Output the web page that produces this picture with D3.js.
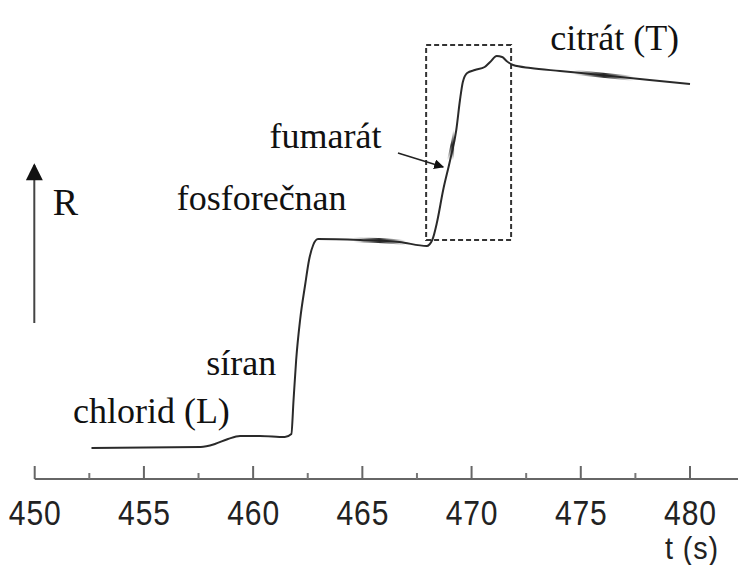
<!DOCTYPE html>
<html>
<head>
<meta charset="utf-8">
<script src="https://cdn.jsdelivr.net/npm/d3@7"></script>
<style>
  html, body { margin: 0; padding: 0; background: #fff; }
  svg { display: block; }
</style>
</head>
<body>
<svg id="chart" width="738" height="565"></svg>
<script>
// Detector response R over time t (s): one step per eluted anion
const times = [452.6, 457.6, 458.25, 458.85, 459.4, 460.3, 461.45, 461.75, 461.85, 461.97,
  462.15, 462.38, 462.56, 462.75, 462.97, 464.9, 466.7, 467.95, 468.2, 468.42,
  468.7, 469.02, 469.3, 469.47, 469.6, 469.8, 470.15, 470.6, 470.85, 471.15,
  471.4, 471.6, 471.9, 472.7, 474.05, 475.9, 478.15, 480.0];
const response = [0, 0.25, 1, 2.25, 3, 3, 2.75, 3.5, 12, 22,
  32, 40.75, 47, 50.75, 52.25, 52, 51.5, 50.5, 52, 56.5,
  64.5, 72, 79.5, 87, 91.5, 93.75, 94.5, 95.25, 96.5, 98,
  97.75, 96.75, 95.75, 95, 94.25, 93.25, 92, 91];

// Axis ticks
const majorTicks = [450, 455, 460, 465, 470, 475, 480];
const minorTicks = [452.5, 457.5, 462.5, 467.5, 472.5, 477.5];

// Zone labels: text, anchor time, anchor response
const labelText = ["chlorid (L)", "síran", "fosforečnan", "fumarát", "citrát (T)"];
const labelT = [451.75, 457.85, 456.5, 460.75, 473.6];
const labelR = [6.25, 18.25, 59.5, 75, 99.5];

// Dashed highlight around the fumarate/citrate transition
const boxT = [467.92, 471.81];
const boxR = [52, 100.75];

// Pointer to the fumarate step
const pointerT = [466.63, 468.7];
const pointerR = [73.75, 70.25];

// Response axis arrow
const rArrowR = [31.25, 70.75];

// Darker, heavier stretches of the trace (time ranges, direction of the fade)
const heavyT0 = [464.6, 474.7, 468.85];
const heavyT1 = [467.0, 477.4, 469.2];
const heavyDir = ["x", "x", "y"];

const svg = d3.select("#chart");
const x = d3.scaleLinear().domain([450, 480]).range([34.7, 690]);
const y = d3.scaleLinear().domain([0, 100]).range([448, 48]);
const axisY = 479;
const ink = "#2a2a2a";
const tickFont = "'Liberation Sans', Arial, sans-serif";
const serif = "'Liberation Serif', 'Times New Roman', serif";

const defs = svg.append("defs");
defs.append("marker")
  .attr("id", "head")
  .attr("viewBox", "0 0 10 10")
  .attr("refX", 9).attr("refY", 5)
  .attr("markerWidth", 10).attr("markerHeight", 10)
  .attr("markerUnits", "userSpaceOnUse")
  .attr("orient", "auto")
  .append("path").attr("d", "M0,0 L10,5 L0,10 Z").attr("fill", "#111");
defs.append("marker")
  .attr("id", "headBig")
  .attr("viewBox", "0 0 10 10")
  .attr("refX", 9).attr("refY", 5)
  .attr("markerWidth", 28).attr("markerHeight", 17)
  .attr("markerUnits", "userSpaceOnUse")
  .attr("orient", "auto")
  .append("path").attr("d", "M0,0 L10,5 L0,10 Z").attr("fill", "#111");

// Time axis
const axisG = svg.append("g").attr("transform", `translate(0,${axisY})`);
axisG.append("line")
  .attr("x1", x(450)).attr("x2", 738)
  .attr("stroke", "#666").attr("stroke-width", 2);
axisG.call(g => {
  const ax = d3.axisBottom(x).tickValues(majorTicks).tickSize(0).tickSizeOuter(0).tickPadding(0)
    .tickFormat(d3.format("d"));
  g.call(ax);
  g.select(".domain").remove();
  g.selectAll(".tick line").remove();
  g.selectAll(".tick text")
    .attr("y", 46)
    .attr("dy", 0)
    .attr("fill", "#222")
    .attr("font-family", tickFont)
    .attr("font-size", 35)
    .attr("letter-spacing", 1)
    .attr("transform", "scale(0.86,1)");
});
axisG.selectAll("line.major").data(majorTicks).join("line")
  .attr("class", "major")
  .attr("x1", d => x(d)).attr("x2", d => x(d))
  .attr("y1", -13).attr("y2", 0)
  .attr("stroke", "#666").attr("stroke-width", 2);
axisG.selectAll("line.minor").data(minorTicks).join("line")
  .attr("class", "minor")
  .attr("x1", d => x(d)).attr("x2", d => x(d))
  .attr("y1", -6).attr("y2", 0)
  .attr("stroke", "#777").attr("stroke-width", 2);
svg.append("g")
  .attr("transform", `translate(${x(480) + 2},559) scale(0.9,1)`)
  .append("text")
  .attr("text-anchor", "middle")
  .attr("fill", "#222")
  .attr("font-family", tickFont)
  .attr("font-size", 32)
  .attr("letter-spacing", 1)
  .text("t (s)");

// Response axis arrow and label
svg.append("line")
  .attr("x1", x(450) - 0.4).attr("x2", x(450) - 0.4)
  .attr("y1", y(rArrowR[0])).attr("y2", y(rArrowR[1]))
  .attr("stroke", "#444").attr("stroke-width", 2)
  .attr("marker-end", "url(#headBig)");
svg.append("text")
  .attr("x", x(450) + 18).attr("y", 215)
  .attr("fill", "#111")
  .attr("font-family", serif)
  .attr("font-size", 38)
  .text("R");

// Dashed highlight box
svg.append("rect")
  .attr("x", x(boxT[0])).attr("y", y(boxR[1]))
  .attr("width", x(boxT[1]) - x(boxT[0]))
  .attr("height", y(boxR[0]) - y(boxR[1]))
  .attr("fill", "none")
  .attr("stroke", "#333").attr("stroke-width", 2)
  .attr("stroke-dasharray", "5,3");

// Response trace
const trace = times.map((t, i) => [t, response[i]]);
const line = d3.line().x(d => x(d[0])).y(d => y(d[1])).curve(d3.curveMonotoneX);
svg.append("path")
  .datum(trace)
  .attr("fill", "none")
  .attr("stroke", ink)
  .attr("stroke-width", 2)
  .attr("stroke-linejoin", "round")
  .attr("d", line);

// Heavier shaded stretches drawn over the trace
heavyT0.forEach((t0, i) => {
  const x0 = x(t0), x1 = x(heavyT1[i]);
  const clipId = "heavyClip" + i, gradId = "heavyGrad" + i;
  defs.append("clipPath").attr("id", clipId)
    .append("rect").attr("x", x0).attr("y", 0).attr("width", x1 - x0).attr("height", 565);
  const horizontal = heavyDir[i] === "x";
  // vertical fades span the part of the trace inside the time range
  const inRange = trace.filter(d => d[0] >= t0 - 0.1 && d[0] <= heavyT1[i] + 0.1).map(d => y(d[1]));
  const g = defs.append("linearGradient").attr("id", gradId)
    .attr("gradientUnits", "userSpaceOnUse")
    .attr("x1", horizontal ? x0 : 0).attr("x2", horizontal ? x1 : 0)
    .attr("y1", horizontal ? 0 : d3.max(inRange)).attr("y2", horizontal ? 0 : d3.min(inRange));
  g.append("stop").attr("offset", 0).attr("stop-color", "#222").attr("stop-opacity", 0);
  g.append("stop").attr("offset", 0.5).attr("stop-color", "#222").attr("stop-opacity", 0.95);
  g.append("stop").attr("offset", 1).attr("stop-color", "#222").attr("stop-opacity", 0);
  svg.append("path")
    .datum(trace)
    .attr("clip-path", `url(#${clipId})`)
    .attr("fill", "none")
    .attr("stroke", `url(#${gradId})`)
    .attr("stroke-width", horizontal ? 5 : 6)
    .attr("d", line);
});

// Zone labels
svg.selectAll("text.zone").data(labelText).join("text")
  .attr("class", "zone")
  .attr("x", (d, i) => x(labelT[i]))
  .attr("y", (d, i) => y(labelR[i]))
  .attr("fill", "#111")
  .attr("font-family", serif)
  .attr("font-size", 36)
  .text(d => d);

// Pointer arrow
svg.append("line")
  .attr("x1", x(pointerT[0])).attr("y1", y(pointerR[0]))
  .attr("x2", x(pointerT[1])).attr("y2", y(pointerR[1]))
  .attr("stroke", "#222").attr("stroke-width", 1.5)
  .attr("marker-end", "url(#head)");
</script>
</body>
</html>
